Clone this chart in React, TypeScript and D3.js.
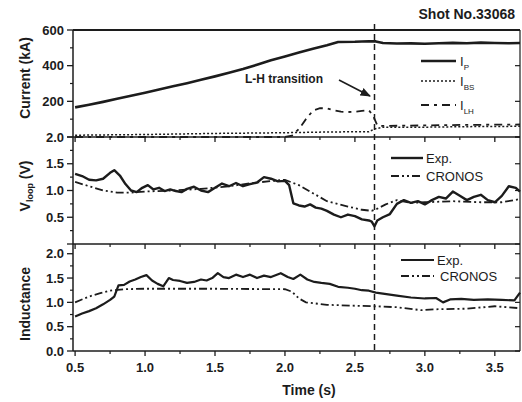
import React from "react";
import * as d3 from "d3";

// ---------- data ----------
const ipT = [0.5, 0.6, 0.7, 0.8, 0.9, 1.0, 1.1, 1.2, 1.3, 1.4, 1.5, 1.6, 1.7, 1.8, 1.9, 2.0, 2.1, 2.2, 2.3, 2.38, 2.5, 2.6, 2.65, 2.7, 2.8, 2.9, 3.0, 3.1, 3.2, 3.3, 3.4, 3.5, 3.6, 3.68];
const ipV = [166, 181, 197, 214, 231, 248, 266, 284, 302, 321, 340, 360, 381, 405, 430, 452, 474, 495, 515, 533, 534, 537, 536, 527, 524, 525, 523, 526, 528, 526, 529, 527, 526, 527];

const bsT = [0.5, 1.0, 1.5, 2.0, 2.3, 2.6, 2.64, 2.7, 3.0, 3.3, 3.68];
const bsV = [10, 14, 20, 24, 28, 30, 45, 55, 55, 58, 60];

const lhT = [0.5, 2.0, 2.05, 2.1, 2.15, 2.2, 2.25, 2.3, 2.35, 2.4, 2.45, 2.5, 2.55, 2.6, 2.63, 2.66, 2.7, 3.0, 3.3, 3.68];
const lhV = [0, 0, 8, 45, 100, 148, 162, 160, 150, 142, 140, 142, 146, 150, 120, 65, 62, 65, 68, 70];

const vExpT = [0.5, 0.55, 0.6, 0.65, 0.7, 0.75, 0.78, 0.82, 0.86, 0.9, 0.94, 0.98, 1.02, 1.06, 1.1, 1.14, 1.18, 1.22, 1.26, 1.3, 1.35, 1.4, 1.45, 1.5, 1.55, 1.6, 1.65, 1.7, 1.75, 1.8, 1.85, 1.9, 1.95, 2.0, 2.03, 2.06, 2.1, 2.14, 2.18, 2.22, 2.26, 2.3, 2.35, 2.4, 2.45, 2.5, 2.55, 2.6, 2.62, 2.64, 2.66, 2.7, 2.75, 2.8, 2.85, 2.9, 2.95, 3.0, 3.05, 3.1, 3.15, 3.2, 3.25, 3.3, 3.35, 3.4, 3.45, 3.5, 3.55, 3.6, 3.65, 3.68];
const vExpV = [1.31, 1.27, 1.2, 1.19, 1.22, 1.33, 1.38, 1.28, 1.12, 1.0, 0.97, 1.05, 1.1, 1.02, 1.05, 0.99, 1.02, 0.99, 0.97, 1.03, 1.07, 1.0, 0.97, 1.05, 1.13, 1.08, 1.14, 1.08, 1.12, 1.15, 1.25, 1.22, 1.17, 1.18, 1.1, 0.76, 0.72, 0.7, 0.74, 0.68, 0.66, 0.62, 0.55, 0.5, 0.55, 0.52, 0.46, 0.44, 0.42, 0.33, 0.44, 0.5, 0.56, 0.75, 0.82, 0.77, 0.8, 0.74, 0.82, 0.88, 0.85, 0.98, 0.9, 0.82, 0.88, 0.92, 0.82, 0.78, 0.9, 1.08, 1.05, 0.98];

const vCroT = [0.5, 0.6, 0.7, 0.8, 0.9, 1.0, 1.2, 1.4, 1.6, 1.8, 2.0, 2.1, 2.2, 2.3, 2.45, 2.55, 2.62, 2.66, 2.72, 2.8, 2.9, 3.0, 3.2, 3.4, 3.55, 3.68];
const vCroV = [1.16, 1.08, 1.0, 0.96, 0.96, 0.98, 1.0, 1.03, 1.08, 1.15, 1.2, 1.1, 0.95, 0.8, 0.7, 0.64, 0.62, 0.66, 0.74, 0.82, 0.77, 0.78, 0.8, 0.78, 0.78, 0.84];

const lExpT = [0.5, 0.55, 0.6, 0.65, 0.7, 0.75, 0.78, 0.81, 0.85, 0.89, 0.93, 0.97, 1.01, 1.05, 1.09, 1.13, 1.17, 1.2, 1.25, 1.3, 1.35, 1.4, 1.44, 1.48, 1.52, 1.56, 1.6, 1.65, 1.7, 1.75, 1.8, 1.85, 1.9, 1.97, 2.02, 2.06, 2.11, 2.16, 2.21, 2.26, 2.32, 2.38, 2.45, 2.5, 2.55, 2.6, 2.65, 2.7, 2.8, 2.9, 3.0, 3.08, 3.13, 3.18, 3.26, 3.35, 3.45, 3.55, 3.64, 3.68];
const lExpV = [0.71, 0.77, 0.82, 0.88, 0.96, 1.05, 1.12, 1.35, 1.36, 1.43, 1.47, 1.52, 1.56, 1.45, 1.38, 1.33, 1.5, 1.46, 1.44, 1.4, 1.42, 1.47, 1.45, 1.5, 1.6, 1.52, 1.5, 1.57, 1.52, 1.57, 1.5, 1.55, 1.52, 1.6, 1.52, 1.48, 1.57, 1.47, 1.42, 1.4, 1.38, 1.32, 1.3, 1.28, 1.25, 1.24, 1.2, 1.18, 1.14, 1.1, 1.08, 1.09, 1.0, 1.06, 1.07, 1.05, 1.06, 1.05, 1.04, 1.2];

const lCroT = [0.5, 0.6, 0.68, 0.75, 0.85, 1.0, 1.5, 2.0, 2.05, 2.1, 2.15, 2.3, 2.5, 2.64, 2.8, 2.97, 3.1, 3.3, 3.5, 3.68];
const lCroV = [1.0, 1.12, 1.19, 1.24, 1.27, 1.28, 1.28, 1.27, 1.22, 1.08, 1.0, 0.95, 0.93, 0.92, 0.9, 0.84, 0.86, 0.87, 0.92, 0.88];

const xTickLabels = ["0.5", "1.0", "1.5", "2.0", "2.5", "3.0", "3.5"];
const topTickLabels = ["200", "400", "600"];
const midTickLabels = ["0.5", "1.0", "1.5", "2.0"];
const botTickLabels = ["0.0", "0.5", "1.0", "1.5", "2.0"];
const transitionTime = 2.64;

// ---------- layout ----------
const W = 522, H = 402;
const L = 73, R = 520;
const FONT = "'Liberation Sans', Arial, sans-serif";
const INK = "#1c1c1c";

const x = d3.scaleLinear().domain([0.485, 3.68]).range([L, R]);
const yTop = d3.scaleLinear().domain([0, 600]).range([137, 30]);
const yMid = d3.scaleLinear().domain([0, 2]).range([244, 137]);
const yBot = d3.scaleLinear().domain([0, 2.2]).range([351, 244]);

const zip = (t: number[], v: number[]) => t.map((ti, i) => [ti, v[i]] as [number, number]);

function path(t: number[], v: number[], y: d3.ScaleLinear<number, number>) {
  const g = d3.line<[number, number]>().x(d => x(d[0])).y(d => y(d[1]));
  return g(zip(t, v)) || "";
}

const DASHDOT = "8,3,2,3,2,3";

function Panel({ y, majors, minors, labels, showTop }: { y: d3.ScaleLinear<number, number>; majors: number[]; minors: number[]; labels: string[]; showTop?: boolean }) {
  const [y0, y1] = y.range();
  const xMaj = d3.range(0.5, 3.51, 0.5);
  const xMin = d3.range(0.75, 3.7, 0.5);
  return (
    <g stroke={INK} fill="none">
      <line x1={L} x2={L} y1={y1} y2={y0} strokeWidth={1.5} />
      <line x1={R} x2={R} y1={y1} y2={y0} strokeWidth={1.2} />
      <line x1={L} x2={R} y1={y0} y2={y0} strokeWidth={1.6} />
      {showTop && <line x1={L} x2={R} y1={y1} y2={y1} strokeWidth={2.2} />}
      {xMaj.map(t => <line key={"M" + t} x1={x(t)} x2={x(t)} y1={y0} y2={y0 + 5} strokeWidth={1.3} />)}
      {xMin.map(t => <line key={"m" + t} x1={x(t)} x2={x(t)} y1={y0} y2={y0 + 3} strokeWidth={1.2} />)}
      {majors.map(v => <line key={"yM" + v} x1={L - 6} x2={L} y1={y(v)} y2={y(v)} strokeWidth={1.3} />)}
      {minors.map(v => <line key={"ym" + v} x1={L - 3} x2={L} y1={y(v)} y2={y(v)} strokeWidth={1.2} />)}
      {majors.map(v => <line key={"rM" + v} x1={R - 5} x2={R} y1={y(v)} y2={y(v)} strokeWidth={1.2} />)}
      {labels.map(lab => (
        <text key={"l" + lab} x={L - 9} y={y(+lab)} dy="0.36em" textAnchor="end" fontFamily={FONT} fontWeight="bold" fontSize={13} fill={INK} stroke="none">{lab}</text>
      ))}
    </g>
  );
}

export default function App() {
  const xt = transitionTime;
  return (
    <svg width={W} height={H} viewBox={`0 0 ${W} ${H}`} style={{ position: "absolute", left: 0, top: 0, background: "#fff" }}>
      <rect width={W} height={H} fill="#fff" />
      <text x={515} y={19} textAnchor="end" fontFamily={FONT} fontWeight="bold" fontSize={14} fill={INK}>Shot No.33068</text>

      <Panel y={yTop} majors={[0, 200, 400, 600]} minors={[100, 300, 500]} labels={topTickLabels} showTop />
      <Panel y={yMid} majors={[0, 0.5, 1.0, 1.5, 2.0]} minors={[0.25, 0.75, 1.25, 1.75]} labels={midTickLabels} />
      <Panel y={yBot} majors={[0, 0.5, 1.0, 1.5, 2.0]} minors={[0.25, 0.75, 1.25, 1.75]} labels={botTickLabels} />

      {/* x tick labels */}
      {xTickLabels.map(l => (
        <text key={l} x={x(+l)} y={372} textAnchor="middle" fontFamily={FONT} fontWeight="bold" fontSize={13} fill={INK}>{l}</text>
      ))}
      <text x={309} y={395} textAnchor="middle" fontFamily={FONT} fontWeight="bold" fontSize={14} fill={INK}>Time (s)</text>

      {/* y titles */}
      <text transform="translate(30,78) rotate(-90)" textAnchor="middle" fontFamily={FONT} fontWeight="bold" fontSize={14} fill={INK}>Current (kA)</text>
      <text transform="translate(30,186) rotate(-90)" textAnchor="middle" fontFamily={FONT} fontWeight="bold" fontSize={14} fill={INK}>
        V<tspan fontSize={9} dy={3}>loop</tspan><tspan dy={-3}> (V)</tspan>
      </text>
      <text transform="translate(30,304) rotate(-90)" textAnchor="middle" fontFamily={FONT} fontWeight="bold" fontSize={14} fill={INK}>Inductance</text>

      {/* top panel curves */}
      <path d={path(ipT, ipV, yTop)} fill="none" stroke={INK} strokeWidth={2.6} strokeLinejoin="round" />
      <path d={path(bsT, bsV, yTop)} fill="none" stroke={INK} strokeWidth={1.5} strokeDasharray="2,2" />
      <path d={path(lhT, lhV, yTop)} fill="none" stroke={INK} strokeWidth={1.8} strokeDasharray="8,5,3,5" />

      {/* middle panel curves */}
      <path d={path(vCroT, vCroV, yMid)} fill="none" stroke={INK} strokeWidth={1.8} strokeDasharray={DASHDOT} />
      <path d={path(vExpT, vExpV, yMid)} fill="none" stroke={INK} strokeWidth={2.4} strokeLinejoin="round" />

      {/* bottom panel curves */}
      <path d={path(lCroT, lCroV, yBot)} fill="none" stroke={INK} strokeWidth={1.8} strokeDasharray={DASHDOT} />
      <path d={path(lExpT, lExpV, yBot)} fill="none" stroke={INK} strokeWidth={2.2} strokeLinejoin="round" />

      {/* transition line */}
      <line x1={x(xt)} x2={x(xt)} y1={24} y2={351} stroke={INK} strokeWidth={1.5} strokeDasharray="6,4" />

      {/* annotation */}
      <defs>
        <marker id="arr" viewBox="0 0 10 10" refX={9} refY={5} markerWidth={7} markerHeight={7} orient="auto">
          <path d="M0,1 L10,5 L0,9 z" fill={INK} />
        </marker>
      </defs>
      <text x={245} y={83} fontFamily={FONT} fontWeight="bold" fontSize={12} fill={INK}>L-H transition</text>
      <line x1={339} y1={80} x2={370} y2={96} stroke={INK} strokeWidth={1.5} markerEnd="url(#arr)" />

      {/* top legend */}
      <g fontFamily={FONT} fontSize={13} fill={INK}>
        <line x1={421} x2={456} y1={61} y2={61} stroke={INK} strokeWidth={2.6} />
        <text x={460} y={66}>I<tspan fontSize={8} dy={4}>P</tspan></text>
        <line x1={421} x2={456} y1={81} y2={81} stroke={INK} strokeWidth={1.5} strokeDasharray="2,2" />
        <text x={460} y={86}>I<tspan fontSize={8} dy={4}>BS</tspan></text>
        <line x1={421} x2={456} y1={105} y2={105} stroke={INK} strokeWidth={1.8} strokeDasharray="8,5,3,5" />
        <text x={460} y={110}>I<tspan fontSize={8} dy={4}>LH</tspan></text>
      </g>

      {/* middle legend */}
      <g fontFamily={FONT} fontSize={13} fill={INK}>
        <line x1={391} x2={423} y1={158} y2={158} stroke={INK} strokeWidth={2.4} />
        <text x={426} y={163}>Exp.</text>
        <line x1={391} x2={423} y1={176} y2={176} stroke={INK} strokeWidth={1.8} strokeDasharray={DASHDOT} />
        <text x={426} y={181}>CRONOS</text>
      </g>

      {/* bottom legend */}
      <g fontFamily={FONT} fontSize={13} fill={INK}>
        <line x1={401} x2={434} y1={260} y2={260} stroke={INK} strokeWidth={2.2} />
        <text x={437} y={265}>Exp.</text>
        <line x1={401} x2={434} y1={276} y2={276} stroke={INK} strokeWidth={1.8} strokeDasharray={DASHDOT} />
        <text x={440} y={281}>CRONOS</text>
      </g>
    </svg>
  );
}
